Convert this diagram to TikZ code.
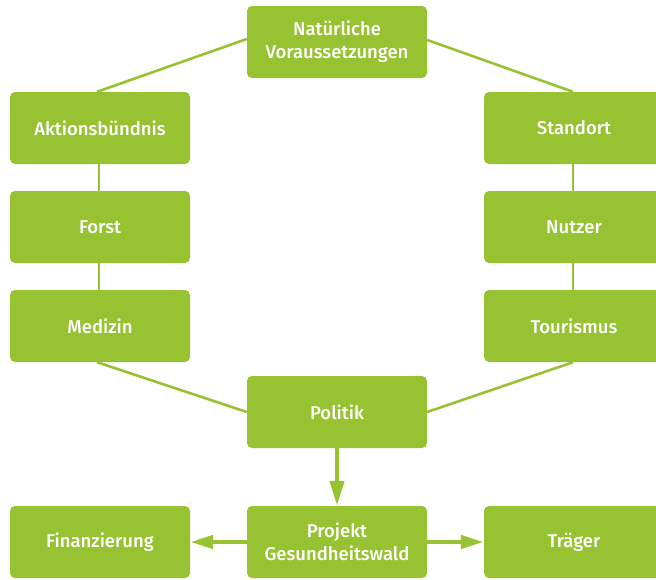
\documentclass[tikz,border=0pt]{standalone}
\usepackage{fontspec}
\setmainfont{Fira Sans}[BoldFont={Fira Sans Medium}]
\usetikzlibrary{arrows.meta}
\definecolor{lgreen}{RGB}{151,194,50}
\begin{document}
\begin{tikzpicture}[x=1pt,y=-1pt,
  box/.style={fill=lgreen, rounded corners=5pt, minimum width=180pt, minimum height=72pt,
    inner sep=0pt, text=white, font=\fontsize{18.5}{23}\selectfont\bfseries, align=center},
  link/.style={draw=lgreen, line width=2.6pt},
  flow/.style={draw=lgreen, line width=4.5pt, -{Triangle[length=25pt,width=14pt]}, shorten >=0pt}]
\useasboundingbox (0,0) rectangle (656,579);
\clip (0,0) rectangle (656,579);
\node[box] (nv) at (337,42) {Natürliche\\Voraussetzungen};
\node[box] (ab) at (100,128) {Aktionsbündnis};
\node[box] (st) at (574,128) {Standort};
\node[box] (fo) at (100,227) {Forst};
\node[box] (nu) at (574,227) {Nutzer};
\node[box] (me) at (100,326) {Medizin};
\node[box] (to) at (574,326) {Tourismus};
\node[box] (po) at (337,412) {Politik};
\node[box] (pr) at (337,542) {Projekt\\Gesundheitswald};
\node[box] (fi) at (100,542) {Finanzierung};
\node[box] (tr) at (574,542) {Träger};
\draw[link] ([yshift=3pt]nv.west) -- ([xshift=-3pt]ab.north);
\draw[link] ([yshift=2pt]nv.east) -- ([xshift=-1pt]st.north);
\draw[link] ([xshift=-1pt]ab.south) -- ([xshift=-1pt]fo.north);
\draw[link] ([xshift=-1pt]fo.south) -- ([xshift=-1pt]me.north);
\draw[link] ([xshift=-1pt]st.south) -- ([xshift=-1pt]nu.north);
\draw[link] ([xshift=-1pt]nu.south) -- ([xshift=-1pt]to.north);
\draw[link] ([xshift=-3pt]me.south) -- (po.west);
\draw[link] ([xshift=-1pt]to.south) -- (po.east);
\draw[flow] (po.south) -- (pr.north);
\draw[flow, -{Triangle[length=23pt,width=13pt]}] (pr.west) -- (fi.east);
\draw[flow, -{Triangle[length=23pt,width=13pt]}] (pr.east) -- (tr.west);
\end{tikzpicture}
\end{document}
